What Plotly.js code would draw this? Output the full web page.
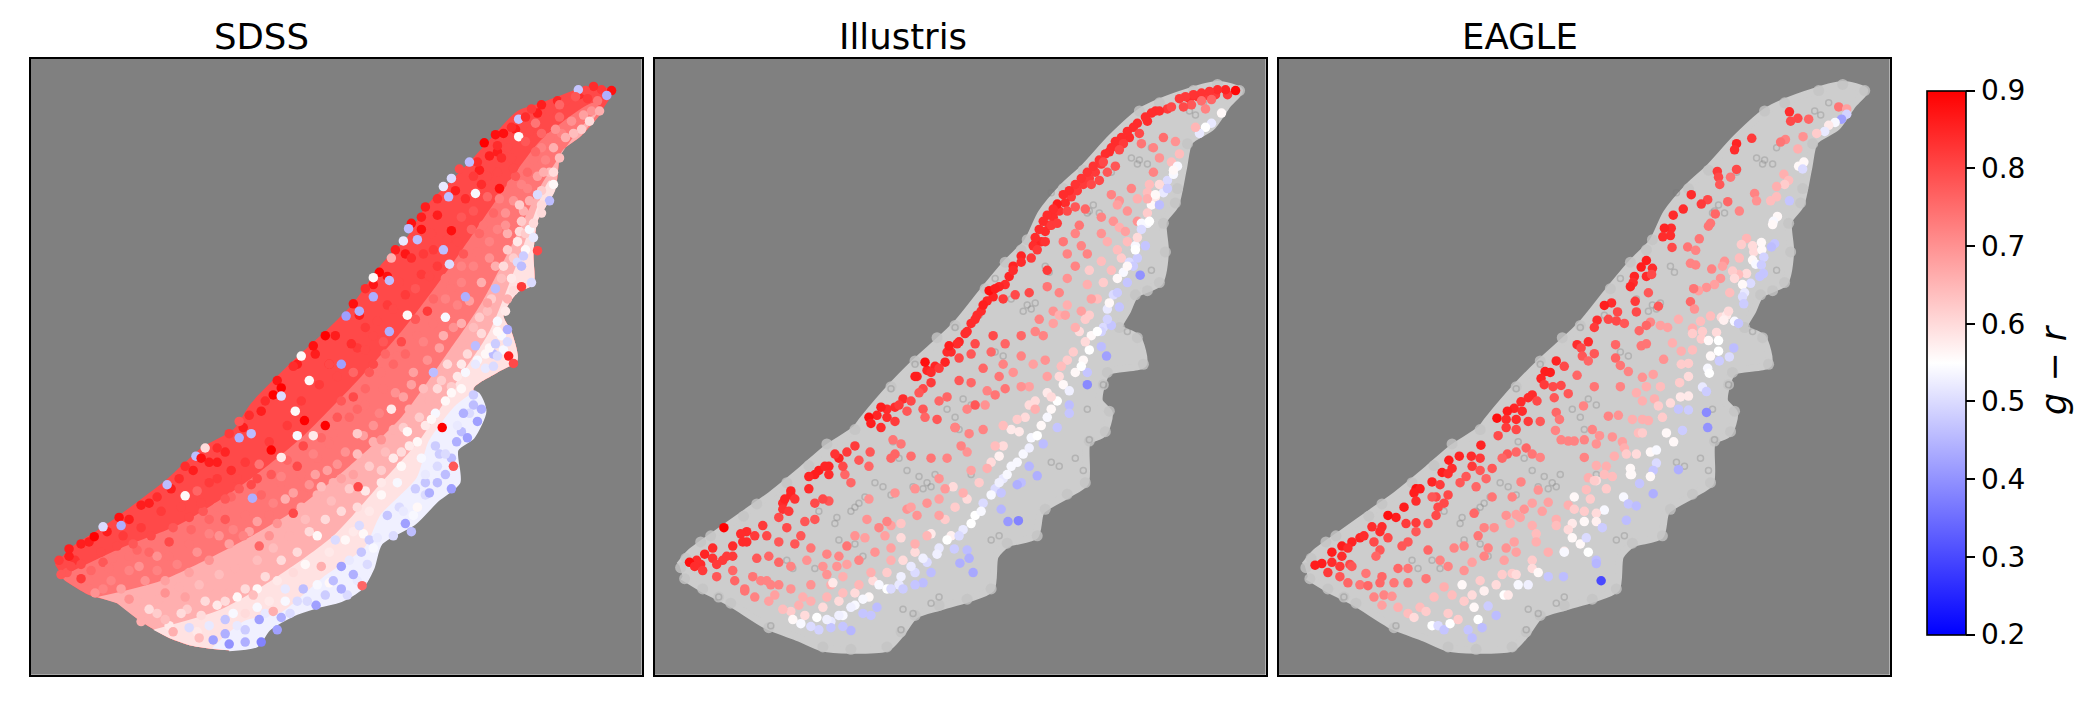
<!DOCTYPE html>
<html><head><meta charset="utf-8">
<script src="https://cdn.plot.ly/plotly-3.0.1.min.js"></script>
<style>html,body{margin:0;padding:0;background:#fff}</style></head>
<body><div id="chart" style="width:2090px;height:705px"></div>
<script>
const panelTitles=["SDSS","Illustris","EAGLE"];
const colorTicks=[0.2,0.3,0.4,0.5,0.6,0.7,0.8,0.9];
// Picture-read coordinates of the embedding; values are g-r in hundredths.
const sdssOutline=[85,1260,130,1215,185,1180,245,1140,300,1100,360,1055,405,1015,450,975,530,930,575,865,660,780,720,725,770,680,830,620,900,525,960,465,1010,385,1075,320,1120,275,1180,210,1240,150,1300,130,1380,100,1430,88,1478,100,1450,150,1400,210,1350,250,1335,340,1290,420,1280,500,1280,575,1240,595,1205,650,1225,690,1240,760,1190,790,1130,830,1160,885,1130,950,1090,980,1095,1060,1040,1105,985,1160,900,1210,880,1270,850,1320,800,1350,740,1365,680,1385,620,1420,590,1460,520,1470,430,1460,370,1440,300,1400,240,1355,170,1335,110,1300];
const sdssBand74=[100,1290,250,1220,400,1160,560,1060,700,950,850,800,950,690,1080,520,1200,350,1300,220,1430,130,1450,150,1400,210,1350,250,1335,340,1290,420,1280,500,1280,575,1240,595,1205,650,1225,690,1240,760,1190,790,1130,830,1160,885,1130,950,1090,980,1095,1060,1040,1105,985,1160,900,1210,880,1270,850,1320,800,1350,740,1365,680,1385,620,1420,590,1460,520,1470,430,1460,370,1440,300,1400,240,1355,170,1335,110,1300];
const sdssBand66=[190,1340,350,1300,520,1220,680,1130,820,1020,950,900,1060,750,1150,620,1230,470,1300,330,1390,200,1445,145,1400,210,1350,250,1335,340,1290,420,1280,500,1280,575,1240,595,1205,650,1225,690,1240,760,1190,790,1130,830,1160,885,1130,950,1090,980,1095,1060,1040,1105,985,1160,900,1210,880,1270,850,1320,800,1350,740,1365,680,1385,620,1420,590,1460,520,1470,430,1460,370,1440,300,1400,240,1355];
const sdssBand58=[330,1420,500,1370,640,1290,780,1190,900,1060,1000,950,1090,810,1170,690,1240,520,1320,320,1335,340,1290,420,1280,500,1280,575,1240,595,1205,650,1225,690,1240,760,1190,790,1130,830,1160,885,1130,950,1090,980,1095,1060,1040,1105,985,1160,900,1210,880,1270,850,1320,800,1350,740,1365,680,1385,620,1420,590,1460,520,1470,430,1460,370,1440];
const sdssBand50=[480,1465,560,1400,650,1380,760,1290,860,1220,900,1140,990,1050,1020,960,1090,870,1140,840,1160,885,1130,950,1090,980,1095,1060,1040,1105,985,1160,900,1210,880,1270,850,1320,800,1350,740,1365,680,1385,620,1420,590,1460,520,1470];
const sdssDots=[1475,100,88,1450,98,82,1430,90,84,1410,100,80,1392,98,47,1463,112,44,1440,125,74,1415,120,82,1385,115,78,1360,125,80,1345,135,76,1425,150,70,1445,150,66,1405,160,68,1420,175,60,1400,195,62,1380,205,64,1360,215,66,1335,195,70,1345,165,76,1320,150,80,1300,135,86,1275,145,82,1243,170,47,1285,180,74,1260,165,84,1225,190,84,1243,213,56,1205,205,88,1185,208,88,1157,228,90,1190,235,84,1215,240,80,1260,225,78,1300,205,76,1330,240,66,1310,270,72,1285,250,76,1345,265,64,1330,300,60,1305,300,66,1330,330,56,1320,370,46,1290,355,50,1300,380,60,1270,370,66,1245,380,62,1265,300,76,1230,290,80,1200,265,84,1170,260,86,1140,275,84,1120,275,46,1095,292,80,1130,310,82,1165,310,80,1195,340,88,1225,330,74,1250,330,72,1135,352,54,1055,335,52,1075,315,50,1068,360,46,1040,365,84,1010,385,86,1000,410,86,975,425,88,968,438,46,990,465,46,955,468,52,1025,450,80,1075,443,88,1100,410,78,1130,395,78,1165,360,76,1195,365,72,1210,400,70,1250,420,62,1280,425,60,1280,460,52,1290,492,80,1240,470,58,1215,490,62,1190,440,72,1155,430,74,1125,440,76,1090,470,80,1055,490,46,1070,525,50,1040,530,82,1005,500,82,975,510,84,935,490,86,925,510,66,895,545,90,880,558,56,920,565,46,860,585,84,830,622,88,845,640,44,812,652,42,880,605,44,945,570,80,985,585,78,1020,555,80,1060,560,74,1100,530,72,1140,495,74,1170,510,70,1205,530,60,1250,530,46,1275,570,50,1250,580,82,1185,585,46,1215,610,66,1165,620,68,1110,605,44,1090,625,72,1060,655,54,1015,640,82,965,650,56,930,635,80,890,665,80,860,680,82,920,690,44,760,700,90,730,725,88,700,750,56,770,770,84,825,720,84,800,770,42,860,735,80,905,715,78,960,745,76,1005,715,72,1055,700,66,1100,670,66,1145,655,62,1190,665,54,1215,685,44,1215,715,50,1185,720,48,1135,725,46,1218,750,86,1230,768,80,1180,775,50,1135,770,52,1100,770,58,1065,770,60,1030,790,46,980,790,68,930,770,76,880,770,80,830,790,76,770,770,80,720,810,56,680,775,84,650,828,90,630,845,90,610,860,84,650,848,50,685,885,56,708,908,90,760,920,90,730,945,58,840,940,62,800,860,78,860,830,76,905,830,74,955,850,68,1005,830,64,1050,810,62,1090,800,58,1130,845,48,1150,880,44,1105,890,44,1140,910,42,1115,950,42,1052,925,90,1025,905,56,965,935,56,925,880,58,880,920,70,840,880,76,770,965,74,730,990,72,690,945,54,650,998,58,625,980,90,570,895,84,545,910,78,575,940,46,545,950,44,520,940,82,490,975,84,460,975,60,437,995,46,410,1020,84,450,1000,88,490,1010,86,525,1030,84,560,1010,82,595,1015,74,650,1045,72,690,1020,80,735,1040,68,790,1015,70,840,990,64,900,955,70,950,985,60,1000,1000,54,1035,970,48,1060,1040,46,1080,1020,78,1088,960,44,1075,1075,42,1020,1085,44,990,1120,56,985,1075,48,940,1060,54,900,1030,62,842,1070,80,800,1050,68,750,1070,64,705,1090,74,660,1100,66,620,1140,74,578,1098,44,545,1075,78,510,1100,78,470,1060,82,440,1080,76,410,1092,56,395,1050,84,365,1065,46,340,1095,84,300,1115,86,245,1145,88,205,1168,50,250,1165,44,183,1192,90,150,1210,86,120,1222,86,95,1250,82,125,1265,80,100,1285,78,150,1295,82,185,1330,70,225,1300,72,270,1275,72,230,1245,74,280,1210,78,340,1240,70,370,1205,80,425,1175,76,470,1185,72,510,1150,78,555,1190,72,595,1215,76,640,1160,70,680,1135,80,740,1190,56,785,1200,50,750,1265,66,830,1180,58,870,1130,58,845,1165,50,915,1140,47,960,1160,42,975,1180,46,890,1195,52,800,1265,42,850,1230,47,865,1260,50,830,1285,44,852,1312,76,800,1320,44,760,1335,48,737,1360,42,705,1320,46,660,1320,52,620,1350,58,650,1390,44,672,1380,50,630,1375,66,580,1335,64,520,1330,66,470,1315,66,410,1340,68,360,1330,70,320,1370,60,300,1400,66,360,1395,64,420,1415,50,445,1440,64,480,1445,42,520,1455,40,560,1450,44,600,1450,38,640,1420,42,595,1395,42,510,1395,47,560,1380,60,450,1385,60,380,1425,66,270,1345,70];
const sdssDotsExtra=[120,1240,86,170,1205,86,215,1180,86,270,1150,86,320,1110,86,375,1075,86,430,1030,86,470,1010,86,510,985,85,555,925,86,600,885,86,640,810,87,690,770,86,735,745,86,785,700,86,845,650,86,880,575,87,915,555,88,960,500,87,1000,440,88,1040,405,86,1085,345,86,1145,295,86,1190,250,86,1235,195,86,1290,155,86,1340,125,85,1395,110,84,150,1260,80,200,1230,80,255,1190,82,300,1170,82,350,1130,82,400,1120,80,450,1110,80,490,1050,82,540,1050,80,590,1050,80,620,960,82,665,920,82,700,860,82,745,820,82,790,800,80,840,730,82,880,700,80,915,625,82,960,600,82,1000,550,82,1030,490,82,1065,465,80,1110,365,84,1150,330,84,1190,300,80,1225,265,80,1270,200,80,1330,145,80,170,1300,74,220,1270,74,270,1240,74,320,1230,76,370,1240,74,420,1210,74,470,1150,76,510,1130,74,560,1140,74,600,1090,76,650,1060,74,700,1040,74,740,1000,74,780,940,74,820,900,76,860,870,74,900,790,74,940,750,74,990,700,74,1030,670,74,1060,610,72,1100,570,72,1130,530,72,1170,470,72,1210,430,70,1230,370,70,1265,340,72,1300,240,72,1350,205,72,250,1320,68,310,1300,70,360,1300,68,420,1280,68,470,1250,70,520,1210,68,570,1180,68,620,1190,70,660,1160,66,700,1120,66,740,1090,66,780,1060,66,830,1040,68,850,1000,66,880,960,66,930,930,66,970,880,66,1020,860,66,1060,780,66,1100,720,66,1130,680,64,1165,640,64,1200,560,64,1230,510,62,1260,450,62,1300,345,62,1320,300,64,340,1380,62,400,1380,60,460,1350,60,510,1350,60,560,1320,60,610,1290,60,650,1250,60,690,1230,60,720,1180,60,760,1150,60,800,1130,60,840,1120,60,860,1080,58,900,1060,58,930,1000,58,970,970,58,1010,920,58,1060,860,56,1100,830,56,1140,760,54,1170,730,56,1190,690,56,1210,640,58,1230,590,60,1260,490,56,1270,440,54,1300,400,60,560,1420,48,510,1430,44,470,1410,52,530,1380,54,610,1380,52,690,1350,50,740,1310,54,780,1300,46,820,1250,52,880,1220,54,930,1190,50,955,1130,52,1010,1090,50,1040,1060,46,1060,990,50,1040,1020,50,1010,1040,52,1120,890,50,1090,920,52,1160,780,52,1190,750,50,1240,520,50,1255,505,48];
const sdssDotsThird=[135,1250,83,115,1280,78,175,1275,76,205,1255,78,240,1215,80,290,1225,76,325,1190,80,380,1170,78,420,1145,80,455,1130,78,490,1120,74,525,1095,76,575,1065,80,625,1040,78,665,1005,76,705,970,80,750,950,76,790,900,78,830,850,80,870,790,78,910,745,76,950,715,80,985,660,78,1030,610,76,1075,585,74,1105,500,78,1145,450,76,1180,400,76,1235,310,78,1280,270,74,1320,215,74,1375,175,70,205,1320,72,295,1265,70,340,1275,72,390,1260,72,440,1230,70,495,1190,70,530,1175,72,590,1155,68,630,1110,72,680,1085,68,720,1065,70,765,1030,68,810,985,70,855,945,68,895,890,72,935,840,70,975,820,68,1015,760,70,1045,730,68,1080,680,70,1120,615,68,1150,570,66,1185,530,66,1215,450,66,1255,395,66,1290,310,68,290,1350,66,345,1345,66,395,1315,66,445,1310,64,495,1285,64,535,1270,66,590,1250,64,630,1220,64,670,1190,66,710,1150,64,775,1105,64,820,1075,62,870,1020,62,910,985,64,955,925,62,995,900,62,1040,830,60,1075,825,62,1115,745,60,1150,695,60,1175,610,62,1225,560,58,1245,445,60,370,1410,58,415,1370,62,490,1360,58,540,1340,56,590,1320,56,640,1300,58,680,1280,60,710,1260,56,770,1230,58,810,1200,56,855,1185,56,900,1090,56,950,1020,56,990,960,56,1035,890,54,1075,840,56,1110,790,54,1160,745,56,1200,700,54,440,1425,58,540,1410,52,590,1365,54,660,1350,54,715,1350,50,770,1305,56,815,1335,50,840,1300,52,870,1200,48,945,1120,50,980,1140,54,1010,1060,47,1045,990,48,1075,1000,46,1100,935,46,1130,870,46,1180,745,46,1205,735,54];
const grayOutline=[72,1262,100,1230,170,1180,235,1135,300,1090,375,1030,440,975,510,930,530,905,600,825,660,765,760,675,830,590,890,520,940,470,975,400,1030,335,1080,290,1150,215,1225,150,1320,110,1415,85,1470,100,1440,135,1400,190,1345,225,1330,290,1310,380,1280,420,1285,495,1270,570,1210,600,1190,640,1170,680,1215,705,1230,770,1140,790,1120,860,1145,890,1130,940,1090,960,1085,1060,1040,1090,975,1130,960,1190,890,1210,860,1240,850,1320,790,1345,720,1365,660,1385,625,1430,590,1465,500,1470,430,1465,370,1440,290,1410,200,1355,130,1320,80,1290];
const grayEdge=[75,1268,88,1245,125,1205,150,1190,232,1142,265,1112,340,1060,395,1018,440,965,510,930,600,825,660,762,715,705,760,675,835,585,885,520,925,490,940,465,1030,340,1080,295,1220,150,1270,130,1355,100,1415,85,1470,100,1340,230,1315,340,1310,375,1280,425,1285,495,1270,570,1240,590,1210,600,1170,680,1215,705,1230,770,1140,790,1130,820,1145,885,1135,935,1095,958,1085,1060,1040,1088,985,1125,965,1190,890,1208,850,1320,790,1345,720,1360,660,1385,625,1425,590,1462,500,1468,430,1462,295,1415,200,1355,170,1340,130,1320,85,1295];
const graySpecks=[690,1060,670,1045,710,1040,640,1030,655,1070,680,1075,700,1070,520,1110,500,1130,535,1095,510,1120,460,1160,465,1145,950,635,930,640,960,620,940,625,1220,270,1200,265,1240,280,1215,280,1105,380,1120,400,1095,395,985,530,995,545,1360,160,1345,150,800,870,780,855,740,880,760,900,620,1000,605,960,410,1270,390,1250,340,1250,355,1270,630,1370,625,1420,655,1380,1000,1010,1020,1020,1095,955,700,1355,720,1340,880,750,860,740,800,1040,560,1060,580,1070,600,1090,470,1200,530,1240,510,1210,420,1130,850,1200,870,1190,1080,1030,1060,1000,770,930,820,650,900,610,1000,350,1090,400,1150,300,1250,240,1380,130,1130,820,1190,690,1250,540,1090,880,600,830,760,680,660,770,860,560,300,1410,170,1340];
const illDots=[1460,100,89,1435,98,85,1415,98,84,1395,102,83,1375,106,83,1355,110,83,1335,115,82,1320,120,82,1400,122,76,1375,125,75,1350,135,78,1385,145,72,1425,155,56,1400,180,52,1385,190,55,1370,205,52,1360,190,65,1330,140,80,1300,140,80,1270,150,84,1250,155,84,1235,165,84,1205,190,84,1190,200,84,1175,215,84,1160,225,84,1150,240,84,1135,255,84,1220,205,80,1180,230,82,1170,245,80,1120,270,83,1105,285,83,1090,300,83,1075,315,83,1060,330,83,1045,345,84,1030,355,84,1015,378,86,1005,390,84,990,405,84,980,420,84,970,440,84,960,460,84,955,480,84,965,490,82,985,470,83,1000,430,82,1015,425,82,1040,395,80,1060,385,78,1085,390,76,1100,330,80,1120,320,80,1140,300,78,1160,285,78,1130,275,80,1150,355,72,1170,370,70,1165,380,68,1200,340,72,1225,230,74,1255,240,72,1280,215,75,1310,225,70,1270,265,70,1320,255,64,1300,275,64,1255,300,72,1245,330,64,1270,330,60,1315,285,54,1305,305,54,1290,340,48,1260,360,58,1240,365,66,1215,365,66,1270,380,46,1240,400,62,1240,425,54,1225,440,50,1215,460,60,1235,480,47,1215,510,48,1205,530,48,1222,552,40,1190,570,47,1165,595,48,1170,630,47,1140,635,52,1150,675,47,1125,690,49,1125,727,46,1138,750,42,1090,790,47,1090,820,39,1045,870,46,1045,890,47,1015,925,47,980,965,46,945,1020,45,965,1043,44,925,1060,46,915,1065,44,875,1085,47,875,1125,45,892,1155,41,918,1153,38,790,1225,46,795,1245,44,772,1257,44,805,1280,43,758,1222,48,700,1280,46,680,1305,46,660,1310,47,630,1320,48,565,1365,46,550,1385,47,530,1380,47,500,1422,45,480,1412,47,450,1415,47,420,1420,49,400,1412,50,375,1405,54,355,1395,56,415,1390,55,440,1395,53,470,1385,53,500,1365,53,530,1345,54,570,1310,54,600,1320,50,625,1290,53,650,1265,52,680,1245,53,715,1235,53,740,1200,55,770,1190,50,800,1160,55,825,1130,54,850,1090,54,870,1060,53,890,1040,54,915,1010,54,945,975,53,965,945,55,990,900,54,1015,860,55,1045,835,53,1075,775,55,1095,735,55,1115,690,55,1140,660,49,1145,620,56,1165,560,56,1190,530,56,1210,490,55,1245,420,55,1260,355,56,1305,295,56,455,1305,58,625,1160,63,625,1195,60,920,935,58,870,995,57,755,1070,60,945,870,60,690,1190,65,720,1140,68,660,1210,66,600,1250,66,550,1280,66,520,1310,65,480,1330,64,440,1340,65,400,1350,66,370,1360,66,330,1370,64,295,1350,68,260,1340,72,235,1320,74,290,1300,72,320,1310,72,350,1320,70,400,1310,70,440,1285,70,480,1290,66,520,1250,72,560,1230,70,600,1220,68,570,1170,72,590,1155,72,650,1120,68,665,1140,70,690,1110,70,720,1100,68,735,1075,69,780,1085,66,800,1030,68,840,1025,66,860,970,64,880,920,64,830,930,72,760,925,74,795,940,72,775,970,72,740,1000,72,700,1000,74,650,995,75,610,990,76,625,965,74,605,955,74,545,1100,70,610,1085,70,500,1060,76,485,1040,76,520,1005,78,548,985,78,510,970,82,490,985,82,460,990,83,435,1020,85,410,1040,86,395,1045,85,445,1040,84,480,1020,80,545,1020,76,600,1000,76,445,1105,78,430,1100,80,410,1110,80,350,1080,85,335,1100,85,330,1125,83,360,1100,83,395,1075,84,345,1130,82,385,1155,78,410,1150,78,375,1190,78,320,1145,80,340,1170,80,280,1165,82,260,1190,82,240,1180,84,225,1185,84,183,1170,90,155,1220,84,135,1235,85,115,1250,84,97,1255,88,110,1265,84,130,1275,82,165,1260,82,190,1240,82,205,1215,84,230,1205,84,240,1205,84,290,1190,80,320,1205,78,360,1210,78,400,1220,74,440,1235,72,490,1215,74,465,1265,70,430,1265,70,265,1245,78,320,1255,76,205,1275,76,210,1300,76,165,1290,78,235,1325,74,300,1310,72,670,840,78,650,860,80,620,870,82,590,880,84,575,875,86,545,900,88,550,915,86,575,925,84,610,910,82,640,885,78,680,880,78,715,905,78,685,900,76,760,925,72,660,800,86,685,765,88,700,790,84,720,780,82,740,740,84,765,720,84,745,725,86,770,755,80,800,745,78,830,780,76,810,720,80,790,690,84,810,660,84,830,625,86,845,590,88,860,585,86,880,610,82,910,600,80,945,595,80,905,540,84,925,520,84,950,510,82,990,540,82,990,580,74,1020,595,72,1040,500,72,1030,470,74,1060,450,72,1075,480,72,1070,430,74,1125,410,72,1170,435,66,1185,445,68,1140,470,66,1165,490,64,1125,518,64,1095,540,62,1090,575,66,1020,650,66,1040,625,66,970,660,72,1005,670,68,1035,650,68,1060,680,66,1085,660,62,980,700,72,925,700,76,885,720,76,855,700,80,850,740,76,880,770,72,925,750,72,985,760,70,1025,775,64,1055,740,62,990,800,68,945,825,68,925,825,70,885,830,74,860,845,74,810,870,78,770,810,78,800,815,76,960,880,66,915,905,62,1000,850,60,1085,715,60];
const illDotsExtra=[1440,110,82,1410,110,82,1385,112,82,1365,115,84,1345,120,84,1290,145,82,1260,150,84,1240,175,84,1215,180,84,1195,215,84,1165,235,84,1145,250,84,1125,280,82,1110,300,82,1095,315,82,1080,330,82,1065,345,82,1050,360,82,1035,375,84,1020,395,83,1005,410,84,995,430,83,985,445,84,975,470,84,960,475,85,925,505,85,905,530,85,895,555,85,885,575,84,870,580,85,855,605,85,840,615,85,825,640,84,815,650,84,800,670,84,785,695,84,770,715,85,750,740,84,735,765,85,710,775,85,690,785,85,665,800,85,700,815,82,680,830,80,630,855,84,610,875,84,590,900,84,565,895,85,470,1000,85,445,1020,85,420,1030,86,350,1090,85,330,1110,84,205,1240,82,180,1250,82,155,1245,83,125,1260,84,1240,350,64,1215,420,70,1190,470,64,1175,510,62,1150,540,64,1130,570,62,1115,610,64,1095,650,62,1070,690,60,1040,760,62,1020,800,60,990,840,58,960,860,60,935,900,60,900,930,58,880,970,60,850,1010,60,820,1060,62,790,1100,60,760,1120,62,735,1150,62,700,1185,58,660,1230,60,630,1250,60,590,1280,62,555,1300,60,510,1330,60,470,1350,60,430,1365,60,385,1385,60,350,1375,62,1290,320,50,1280,350,52,1250,380,56,1225,425,54,1210,480,54,1195,520,50,1180,545,54,1155,600,50,1130,680,50,1100,700,56,1080,760,56,1060,790,56,1030,820,56,1000,880,56,975,920,56,950,950,54,930,990,54,900,1020,54,880,1050,52,860,1075,50,830,1110,50,810,1140,55,780,1175,52,750,1190,57,720,1220,52,690,1255,50,660,1280,50,620,1310,52,590,1320,55,545,1340,56,510,1360,54,480,1385,54,450,1400,52,1190,395,70,1155,420,70,1125,450,70,1090,500,72,1060,530,72,1040,560,70,1100,610,68,1075,640,68,1005,640,70,960,690,72,955,770,68,905,790,70,870,800,74,840,835,72,790,880,72,740,850,76,720,860,76,835,870,70,790,985,70,720,1050,70,660,1075,70,640,1125,70,600,1165,68,540,1150,70,510,1190,70,470,1240,72,390,1250,70,350,1265,72,295,1240,76,255,1290,74,275,1300,72,310,1335,68,380,1340,66,450,1310,66,490,1260,68,535,1195,68,585,1190,68];
const eagleDots=[1405,140,74,1425,145,68,1425,158,49,1412,170,42,1396,178,54,1380,185,58,1370,200,52,1350,205,62,1330,170,76,1303,168,80,1285,175,80,1282,152,84,1316,213,70,1272,220,72,1260,226,74,1188,217,82,1150,230,85,1145,245,84,1102,298,82,1150,293,80,1135,312,74,1105,312,80,1108,330,78,1303,243,66,1318,275,56,1305,285,56,1315,292,50,1268,305,66,1280,320,64,1270,330,62,1250,335,66,1250,360,64,1235,370,64,1195,352,72,1200,370,70,1282,370,47,1128,372,76,1078,367,80,1062,378,82,1037,355,84,1017,390,84,992,405,84,987,437,84,970,437,85,985,455,84,966,458,84,1157,395,72,1097,402,76,1085,425,74,1080,432,74,1252,408,56,1242,420,54,1240,428,56,1057,463,74,1028,483,74,1048,491,72,989,484,80,1212,472,56,1245,475,47,1237,483,46,1175,462,65,1162,477,62,1190,480,60,1193,495,60,1213,490,56,1190,515,56,1218,508,49,1198,525,54,1212,527,48,1157,510,64,1120,518,70,1115,530,68,1035,523,72,1048,527,72,1088,537,72,925,516,86,912,532,86,940,535,84,895,555,85,925,555,84,938,550,80,892,570,84,885,580,85,1217,548,47,1208,555,47,1185,572,50,1175,548,60,1155,550,64,1140,542,62,1145,560,60,1110,560,70,1165,575,56,1170,595,52,1165,605,50,1168,622,48,1133,595,64,1095,575,68,1075,582,70,1055,590,68,1043,585,74,1035,617,76,1045,635,70,930,595,78,897,616,82,838,620,84,820,626,86,853,642,80,830,660,80,802,662,84,850,664,80,795,680,82,870,670,78,900,642,80,955,628,78,935,667,72,925,675,76,960,675,68,978,680,68,1005,660,66,1060,665,64,1085,652,64,1112,655,60,1125,650,58,1130,640,60,1145,665,54,1155,670,47,1118,662,57,1065,690,62,1040,682,66,1040,695,62,1062,708,62,1100,692,60,1105,712,55,1080,712,56,1143,730,46,1105,738,55,1132,752,50,1107,762,48,1085,750,56,1078,780,54,1082,792,55,1012,738,66,1040,735,64,990,718,66,907,688,76,912,725,74,925,720,74,848,722,76,780,715,84,752,722,84,762,730,80,795,744,78,765,750,78,780,762,76,848,755,76,860,773,74,968,758,70,1012,770,62,1030,768,62,700,762,85,720,775,80,672,788,86,685,790,86,662,805,85,752,797,76,880,788,72,915,802,70,942,795,68,795,825,74,860,825,72,900,840,66,925,825,66,960,825,64,1030,800,60,1008,815,62,1065,826,52,1075,837,48,985,865,60,1010,850,58,1030,848,58,670,820,82,692,825,80,712,822,80,640,845,84,630,852,84,612,862,84,595,878,85,578,885,86,552,902,88,575,905,84,600,905,84,615,885,84,652,860,80,695,852,78,730,842,78,768,872,72,700,888,76,708,905,74,660,910,78,630,910,82,600,930,80,575,925,82,555,945,80,915,860,66,945,855,66,955,872,62,915,905,66,890,905,66,830,897,72,855,895,70,930,908,66,965,900,62,1005,880,47,1030,882,48,1075,888,39,1078,925,40,1015,932,48,975,938,56,993,960,56,790,930,72,808,945,70,905,938,64,915,938,62,698,932,72,712,955,72,730,958,72,745,958,72,770,955,72,800,965,70,840,948,70,865,960,68,512,968,85,458,995,85,432,1005,86,488,995,84,510,1000,82,578,990,78,600,985,76,625,975,76,640,990,74,660,998,72,770,998,72,845,995,66,870,975,66,875,990,62,900,990,60,935,985,56,950,980,54,950,1012,50,942,1030,47,885,1025,56,1005,1028,44,825,1020,66,800,1018,66,820,1040,64,800,1055,60,840,1045,64,885,1040,56,935,1045,56,565,1000,76,490,1020,82,510,1030,78,440,1025,84,415,1035,86,430,1038,84,540,1025,78,460,1060,78,500,1070,76,525,1050,76,475,1045,78,390,1058,85,410,1065,82,430,1090,80,350,1075,88,360,1075,86,345,1085,86,400,1095,80,390,1095,78,780,1048,66,795,1055,62,888,1040,56,908,1062,47,942,1087,44,825,1075,62,775,1077,64,655,1078,70,612,1058,72,745,1095,56,785,1100,62,868,1095,54,880,1112,47,900,1117,46,820,1127,54,730,1115,66,680,1108,68,640,1110,68,620,1125,70,600,1138,68,575,1140,70,495,1135,76,540,1095,74,590,1095,72,420,1110,80,405,1120,80,350,1105,84,320,1120,86,300,1145,86,280,1140,88,325,1160,82,350,1158,82,380,1160,78,400,1140,80,665,1130,68,700,1150,66,745,1125,62,770,1130,62,800,1135,60,740,1160,58,770,1155,56,800,1155,57,815,1170,48,875,1152,46,240,1168,84,265,1168,84,260,1180,84,210,1195,85,190,1205,85,165,1215,86,140,1230,86,180,1220,84,165,1240,84,140,1255,84,115,1258,86,98,1262,86,130,1280,82,160,1265,82,185,1260,80,220,1190,84,245,1205,80,280,1195,80,330,1205,78,350,1180,78,315,1215,78,380,1225,76,445,1220,72,470,1215,72,520,1170,72,545,1170,70,585,1160,66,610,1145,68,640,1165,66,650,1185,64,700,1165,64,730,1175,60,740,1195,56,760,1210,56,780,1230,55,775,1195,50,720,1228,58,680,1230,66,650,1205,66,595,1205,68,600,1230,68,575,1220,70,530,1220,72,505,1190,74,260,1225,78,250,1240,76,305,1270,76,330,1270,74,190,1265,78,160,1290,78,180,1305,76,210,1310,74,230,1312,76,265,1290,76,260,1305,76,295,1305,74,330,1305,74,375,1295,74,225,1282,74,410,1250,72,430,1265,72,470,1275,70,490,1255,68,520,1240,72,570,1250,68,640,1250,62,640,1270,60,655,1280,56,680,1290,47,718,1290,46,800,1250,46,800,1258,45,812,1300,30,720,1230,54,565,1285,62,590,1282,62,600,1285,60,630,1310,53,605,1310,54,550,1310,60,510,1300,62,465,1310,56,520,1325,57,570,1335,55,580,1335,58,420,1315,66,245,1340,72,270,1335,72,290,1338,70,265,1360,68,305,1365,66,330,1380,64,345,1390,60,360,1365,64,375,1375,62,395,1340,64,440,1335,64,470,1350,62,490,1335,60,495,1365,56,530,1362,48,505,1395,55,550,1385,46,390,1410,55,405,1410,50,420,1420,47,435,1405,55,455,1395,62,430,1380,62,480,1420,47,515,1415,46,490,1440,46];
function bwr(v){const t=(v-20)/70;const c=t<.5?[Math.round(510*t),Math.round(510*t),255]:[255,Math.round(510*(1-t)),Math.round(510*(1-t))];return `rgb(${c[0]},${c[1]},${c[2]})`;}
function every(a,n,k){return a.filter((_,i)=>i%n===k);}
function poly(a,c,ax,ay,w){return {type:'scatter',mode:'lines',x:every(a,2,0),y:every(a,2,1),xaxis:ax,yaxis:ay,fill:'toself',fillcolor:c,line:{color:c,width:w,shape:'spline',smoothing:.7},hoverinfo:'skip',showlegend:false};}
function dots(a,ax,ay,scale){return {type:'scatter',mode:'markers',x:every(a,3,0),y:every(a,3,1),xaxis:ax,yaxis:ay,hoverinfo:'skip',showlegend:false,
 marker:{size:9.5,color:every(a,3,2).map(v=>v/100),cmin:.2,cmax:.9,colorscale:[[0,'#0000ff'],[.5,'#ffffff'],[1,'#ff0000']],showscale:!!scale,line:{width:0},
 colorbar:scale?{x:1926.6/2090,xanchor:'left',xpad:0,y:1-362.6/705,yanchor:'middle',ypad:0,lenmode:'pixels',len:544,thicknessmode:'pixels',thickness:39,outlinecolor:'#000',outlinewidth:1.6,ticks:'outside',ticklen:9,tickwidth:1.6,tickcolor:'#000',tickvals:colorTicks,ticktext:colorTicks.map(t=>t.toFixed(1)),tickfont:{family:'DejaVu Sans',size:28,color:'#000'}}:undefined}};}
function specks(ax,ay){return {type:'scatter',mode:'markers',x:every(graySpecks,2,0),y:every(graySpecks,2,1),xaxis:ax,yaxis:ay,hoverinfo:'skip',showlegend:false,marker:{symbol:'circle-open',size:6,color:'rgba(120,120,120,.3)',line:{width:1.5,color:'rgba(120,120,120,.3)'}}};}
function edge(ax,ay){return {type:'scatter',mode:'markers',x:every(grayEdge,2,0),y:every(grayEdge,2,1),xaxis:ax,yaxis:ay,hoverinfo:'skip',showlegend:false,marker:{size:11,color:'#c4c4c4',opacity:.8,line:{width:0}}};}
const data=[
 poly(sdssOutline,bwr(80),'x','y',0),poly(sdssBand74,bwr(74),'x','y',0),poly(sdssBand66,bwr(66),'x','y',0),poly(sdssBand58,bwr(59),'x','y',0),poly(sdssBand50,bwr(53),'x','y',2),dots(sdssDotsThird,'x','y',false),dots(sdssDotsExtra,'x','y',false),dots(sdssDots,'x','y',true),
 poly(grayOutline,'#cdcdcd','x2','y2',7),edge('x2','y2'),specks('x2','y2'),dots(illDotsExtra,'x2','y2',false),dots(illDots,'x2','y2',false),
 poly(grayOutline,'#cdcdcd','x3','y3',7),edge('x3','y3'),specks('x3','y3'),dots(eagleDots,'x3','y3',false)];
const pw=2090,ph=705;
function xa(l,r,lo,hi){return {domain:[l/pw,r/pw],range:[lo,hi],showticklabels:false,ticks:'',showgrid:false,zeroline:false,showline:true,mirror:true,linecolor:'#000',linewidth:1.6,fixedrange:true};}
function ya(anchor){return {domain:[1-674.7/ph,1-58.7/ph],range:[1530,22],showticklabels:false,ticks:'',showgrid:false,zeroline:false,showline:true,mirror:true,linecolor:'#000',linewidth:1.6,anchor:anchor,fixedrange:true};}
const layout={width:pw,height:ph,margin:{l:0,r:0,t:0,b:0,autoexpand:false},paper_bgcolor:'#fff',plot_bgcolor:'#808080',showlegend:false,
 xaxis:xa(30.6,641.6,24,1550),yaxis:ya('x'),xaxis2:Object.assign(xa(654.6,1265.6,10,1535),{anchor:'y2'}),yaxis2:ya('x2'),xaxis3:Object.assign(xa(1278.6,1889.6,7,1532),{anchor:'y3'}),yaxis3:ya('x3'),
 annotations:[
  ...panelTitles.map((t,i)=>({text:t,xref:'paper',yref:'paper',x:[261.5,902.5,1520][i]/pw,y:1-37/ph,xanchor:'center',yanchor:'middle',showarrow:false,font:{family:'DejaVu Sans',size:35.5,color:'#000'}})),
  {text:'<i>g</i> − <i>r</i>',xref:'paper',yref:'paper',x:2054/pw,y:1-370/ph,xanchor:'center',yanchor:'middle',textangle:-90,showarrow:false,font:{family:'DejaVu Sans',size:35,color:'#000'}}]};
Plotly.newPlot('chart',data,layout,{displayModeBar:false,responsive:false});
</script></body></html>
